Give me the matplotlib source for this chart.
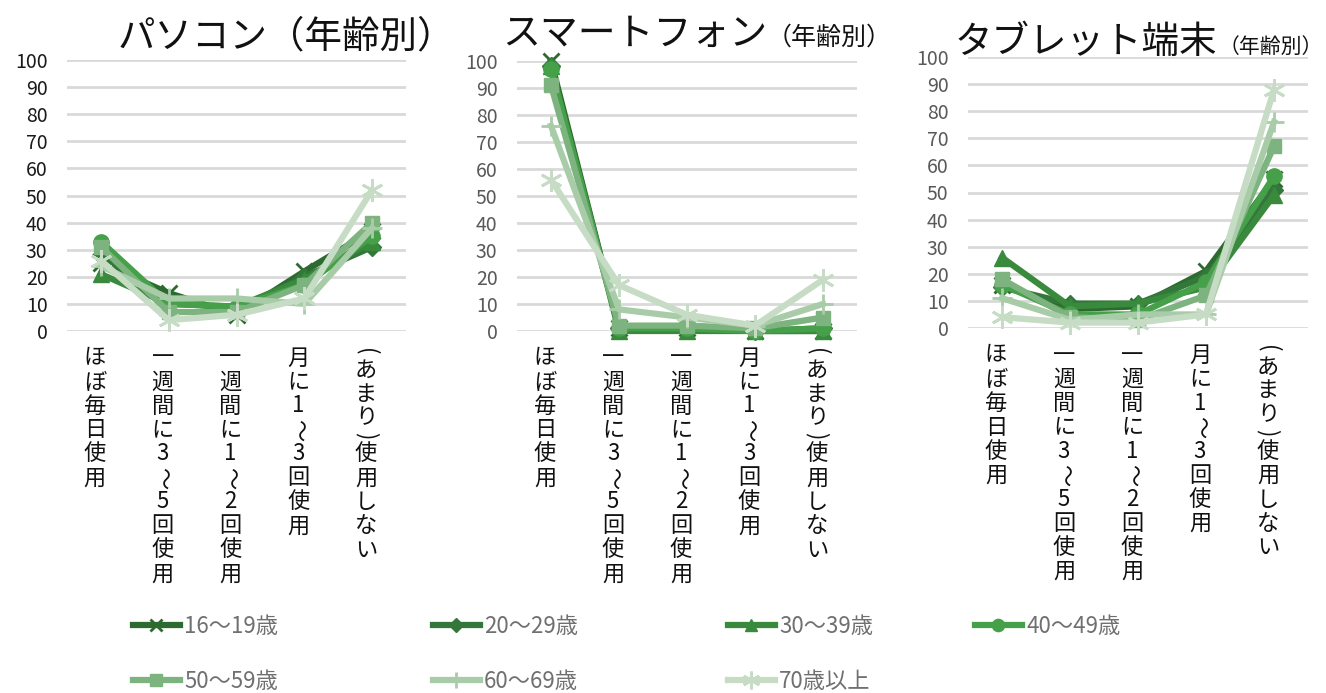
import matplotlib
matplotlib.use('Agg')
import matplotlib.pyplot as plt
from matplotlib.lines import Line2D
from matplotlib.transforms import offset_copy

plt.rcParams['font.family'] = ['Noto Sans CJK JP', 'DejaVu Sans']

# usage frequency categories (x axis)
categories = ['ほぼ毎日使用', '一週間に3〜5回使用', '一週間に1〜2回使用',
              '月に1〜3回使用', '（あまり）使用しない']

ages = ['16〜19歳', '20〜29歳', '30〜39歳', '40〜49歳',
        '50〜59歳', '60〜69歳', '70歳以上']

# percentage of users per age group, one list per category
pc = [
    [25, 14, 6, 22, 37],
    [28, 11, 8, 20, 31],
    [21, 10, 9, 19, 33],
    [33, 10, 9, 17, 35],
    [31, 7, 7, 17, 40],
    [24, 12, 12, 10, 38],
    [26, 4, 6, 12, 52],
]
smartphone = [
    [100, 1, 1, 0, 0],
    [98, 1, 1, 0, 1],
    [98, 0, 0, 0, 0],
    [97, 1, 1, 0, 1],
    [91, 2, 2, 1, 5],
    [76, 8, 5, 2, 10],
    [56, 17, 6, 2, 19],
]
tablet = [
    [16, 7, 8, 21, 55],
    [15, 9, 9, 19, 51],
    [26, 8, 9, 15, 49],
    [16, 5, 5, 17, 56],
    [18, 4, 3, 12, 67],
    [11, 3, 5, 5, 76],
    [4, 2, 2, 5, 88],
]

colors = ['#2c6a2f', '#33783a', '#3a8a3d', '#45a049', '#7db37e', '#a9cca8', '#c6dcc5']
markers = ['x', 'D', '^', 'o', 's', '+', (6, 2, 0)]
msizes = [11, 9, 11, 11, 10, 14, 16]

W, H = 1326, 693


def box(x0, y0, x1, y1):
    return [x0 / W, 1 - y1 / H, (x1 - x0) / W, (y1 - y0) / H]


def edge_width(m):
    return 2.0 if m in ('x', '+') or isinstance(m, tuple) else 1.0


def vertical_label(ax, xpos, label, top=15, pitch=24):
    # stack the characters top to bottom, turning brackets and the wave dash
    y = top
    for ch in label:
        ch = {'（': '(', '）': ')'}.get(ch, ch)
        step = pitch // 2 if ch in '()' else pitch
        rot = -90 if ch in '()〜' else 0
        tr = offset_copy(ax.get_xaxis_transform(), fig=ax.figure,
                         x=-6, y=-(y + step / 2), units='dots')
        ax.text(xpos, 0, ch, transform=tr, rotation=rot, ha='center',
                va='center', fontsize=16, color='#111111')
        y += step


fig = plt.figure(figsize=(W / 100, H / 100), dpi=100)

panels = [
    (pc, box(67, 60, 406, 331), '#1a1a1a'),
    (smartphone, box(517, 61, 857, 331), '#595959'),
    (tablet, box(968, 57, 1308, 328), '#595959'),
]

for data, rect, tcol in panels:
    ax = fig.add_axes(rect)
    x = range(len(categories))
    for i, vals in enumerate(data):
        ax.plot(x, vals, color=colors[i], lw=4.5, marker=markers[i],
                markersize=msizes[i], markeredgewidth=edge_width(markers[i]),
                clip_on=False, solid_joinstyle='round')
    ax.set_xlim(-0.5, 4.5)
    ax.set_ylim(0, 100)
    ax.set_yticks(range(0, 101, 10))
    ax.set_xticks(list(x))
    ax.set_xticklabels([])
    for k, c in enumerate(categories):
        vertical_label(ax, k, c)
    ax.tick_params(axis='x', length=0)
    ax.tick_params(axis='y', length=0, pad=14, labelsize=14, labelcolor=tcol)
    ax.grid(axis='y', color='#d9d9d9', lw=2)
    ax.set_axisbelow(True)
    for sp in ax.spines.values():
        sp.set_visible(False)

# titles
fig.text(286 / W, 1 - 47 / H, 'パソコン（年齢別）', fontsize=27,
         ha='center', va='baseline', color='#111111')
fig.text(767 / W, 1 - 45 / H, 'スマートフォン', fontsize=27.3,
         ha='right', va='baseline', color='#111111')
fig.text(767 / W, 1 - 45 / H, '（年齢別）', fontsize=18,
         ha='left', va='baseline', color='#111111')
fig.text(1217 / W, 1 - 53 / H, 'タブレット端末', fontsize=27,
         ha='right', va='baseline', color='#111111')
fig.text(1219 / W, 1 - 53 / H, '（年齢別）', fontsize=15,
         ha='left', va='baseline', color='#111111')

# legend, laid out row by row in four columns
columns = [[0, 4], [1, 5], [2, 6], [3]]
col_x = [133, 433, 728, 975]
for cx, idx in zip(col_x, columns):
    hs = [Line2D([], [], color=colors[i], lw=4.5, marker=markers[i],
                 markersize=msizes[i] * 0.8,
                 markeredgewidth=edge_width(markers[i]))
          for i in idx]
    fig.legend(hs, [ages[i] for i in idx], loc='upper left',
               bbox_to_anchor=(cx / W, 1 - 615 / H), frameon=False,
               fontsize=16, labelcolor='#707070', handlelength=2.1,
               handletextpad=0.2, labelspacing=1.45, borderpad=0,
               borderaxespad=0)

fig.savefig('out.png', dpi=100)
